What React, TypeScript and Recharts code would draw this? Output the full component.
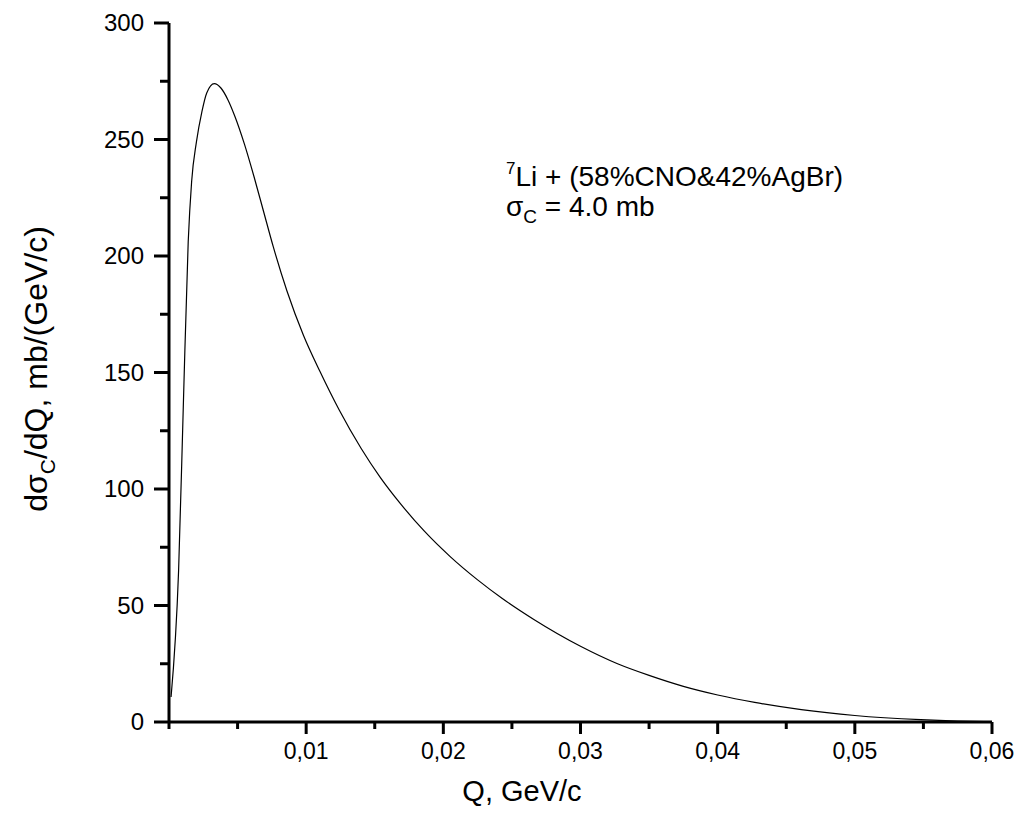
import { LineChart, Line, XAxis, YAxis } from "recharts";

// Q, GeV/c
const qValues = [
  0.00015, 0.0007, 0.00105, 0.0014, 0.00165, 0.002, 0.0024, 0.00275, 0.0033,
  0.0038, 0.0043, 0.0048, 0.0055, 0.0062, 0.0069, 0.0076, 0.0086, 0.0098,
  0.011, 0.0124, 0.014, 0.0154, 0.0169, 0.0186, 0.0205, 0.0225, 0.0243, 0.0266,
  0.03, 0.0327, 0.035, 0.0375, 0.04, 0.0427, 0.0461, 0.05, 0.0548, 0.0575, 0.06,
];
// dσC/dQ, mb/(GeV/c)
const dsigma = [
  10.7, 65, 137, 206, 232, 249, 262, 270, 274, 272, 267, 260, 248, 234, 219,
  204, 185, 166, 150.5, 134, 117.5, 105, 93.5, 82, 71, 61, 53, 44, 32.5, 25, 20,
  15.3, 11.6, 8.4, 5.3, 2.8, 1.0, 0.4, 0.1,
];

const xTicks = [
  0, 0.005, 0.01, 0.015, 0.02, 0.025, 0.03, 0.035, 0.04, 0.045, 0.05, 0.055,
  0.06,
];
const xLabelled = [0.01, 0.02, 0.03, 0.04, 0.05, 0.06];
const yTicks = [0, 25, 50, 75, 100, 125, 150, 175, 200, 225, 250, 275, 300];
const yLabelled = [0, 50, 100, 150, 200, 250, 300];

const data = qValues.map((q, i) => ({ q, v: dsigma[i] }));

const FONT = "'Liberation Sans', Arial, sans-serif";
const AXIS_W = 3;

const isOn = (list: number[], v: number) =>
  list.some((t) => Math.abs(t - v) < 1e-9);

function XTick({ x, y, payload }: any) {
  const major = isOn(xLabelled, payload.value);
  return (
    <g>
      <line x1={x} x2={x} y1={y} y2={y + (major ? 12 : 7)} stroke="#000" strokeWidth={AXIS_W} />
      {major && (
        <text x={x} y={y + 37} textAnchor="middle" fontSize={23} fontFamily={FONT} fill="#000">
          {payload.value.toFixed(2).replace(".", ",")}
        </text>
      )}
    </g>
  );
}

function YTick({ x, y, payload }: any) {
  const major = isOn(yLabelled, payload.value);
  return (
    <g>
      <line x1={x - (major ? 15 : 9)} x2={x} y1={y} y2={y} stroke="#000" strokeWidth={AXIS_W} />
      {major && (
        <text x={x - 25} y={y + 8} textAnchor="end" fontSize={24} fontFamily={FONT} fill="#000">
          {payload.value}
        </text>
      )}
    </g>
  );
}

export default function App() {
  return (
    <div style={{ position: "absolute", left: 0, top: 0, width: 1026, height: 813, background: "#fff" }}>
      <LineChart
        width={1026}
        height={813}
        data={data}
        margin={{ top: 23, right: 34, bottom: 0, left: 0 }}
      >
        <XAxis
          dataKey="q"
          type="number"
          domain={[0, 0.06]}
          ticks={xTicks}
          interval={0}
          height={91}
          tickSize={0}
          tickMargin={0}
          tick={<XTick />}
          axisLine={{ stroke: "#000", strokeWidth: AXIS_W }}
          tickLine={false}
        />
        <YAxis
          type="number"
          domain={[0, 300]}
          ticks={yTicks}
          interval={0}
          width={169}
          tickSize={0}
          tickMargin={0}
          tick={<YTick />}
          axisLine={{ stroke: "#000", strokeWidth: AXIS_W }}
          tickLine={false}
        />
        <Line
          type="monotone"
          dataKey="v"
          stroke="#000"
          strokeWidth={1.2}
          dot={false}
          isAnimationActive={false}
        />
      </LineChart>
      <svg
        width={1026}
        height={813}
        style={{ position: "absolute", left: 0, top: 0, pointerEvents: "none" }}
        fontFamily={FONT}
        fill="#000"
      >
        <text x={522} y={801} textAnchor="middle" fontSize={29}>
          Q, GeV/c
        </text>
        <text transform="translate(47 369) rotate(-90)" textAnchor="middle" fontSize={32}>
          dσ<tspan dy={8} fontSize={21}>C</tspan>
          <tspan dy={-8}>/dQ, mb/(GeV/c)</tspan>
        </text>
        <text x={506} y={186} fontSize={28}>
          <tspan dy={-12} fontSize={17}>7</tspan>
          <tspan dy={12}>Li + (58%CNO&amp;42%AgBr)</tspan>
        </text>
        <text x={506} y={216} fontSize={28}>
          σ<tspan dy={7} fontSize={19}>C</tspan>
          <tspan dy={-7}> = 4.0 mb</tspan>
        </text>
      </svg>
    </div>
  );
}
